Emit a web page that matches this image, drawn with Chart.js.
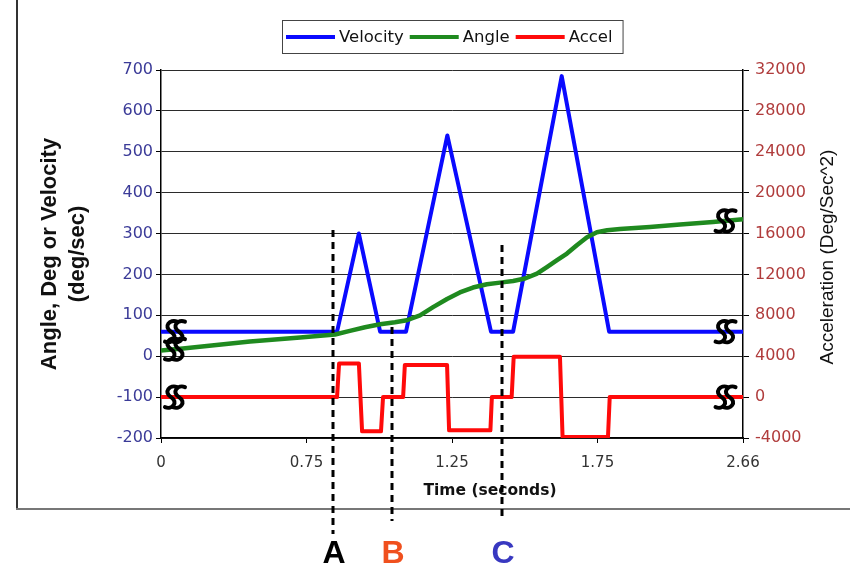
<!DOCTYPE html>
<html>
<head>
<meta charset="utf-8">
<script src="https://cdn.jsdelivr.net/npm/chart.js@4.4.0/dist/chart.umd.min.js"></script>
<style>
  html, body { margin: 0; padding: 0; background: #fff; }
</style>
</head>
<body>
<canvas id="chart" width="850" height="565"></canvas>
<script>
/* DATA - times are as plotted; the time axis is broken at both ends */
const tickTimes = [0.25, 0.75, 1.25, 1.75, 2.25];
const tickLabels = ["0", "0.75", "1.25", "1.75", "2.66"];
const seriesNames = ["Velocity", "Angle", "Accel"];

const velTime = [0.25, 0.855, 0.930, 1.003, 1.092, 1.234, 1.384, 1.460, 1.627, 1.790, 2.25];
const velValues = [60, 60, 300, 60, 60, 540, 60, 60, 685, 60, 60];

const angleTime = [0.25, 0.325, 0.556, 0.728, 0.848, 0.899, 0.951, 1.003, 1.054, 1.095, 1.140, 1.185,
  1.233, 1.277, 1.322, 1.370, 1.415, 1.460, 1.501, 1.542, 1.576, 1.611, 1.645, 1.680, 1.714,
  1.748, 1.783, 1.827, 1.930, 2.034, 2.147, 2.25];
const angleValues = [14, 19, 36, 46, 53, 62, 71, 78, 83, 88, 100, 120,
  140, 156, 168, 176, 180, 184, 190, 202, 218, 235, 251, 272, 291,
  303, 308, 311, 316, 322, 328, 335];

const accelTime = [0.25, 0.855, 0.862, 0.930, 0.941, 1.006, 1.013, 1.082, 1.088, 1.233,
  1.240, 1.382, 1.387, 1.455, 1.462, 1.621, 1.630, 1.786, 1.792, 2.25];
const accelValues = [0, 0, 3300, 3300, -3350, -3350, 0, 0, 3150, 3150,
  -3250, -3250, 0, 0, 3950, 3950, -3900, -3900, 0, 0];

const markerNames = ["A", "B", "C"];
const markerTimes = [0.841, 1.044, 1.422];
const breakTimes = [0.298, 2.19];

/* HELPERS */

const toPoints = (ts, vs) => ts.map((t, i) => ({ x: t, y: vs[i] }));

function valueAt(ts, vs, t) {
  for (let i = 1; i < ts.length; i++) {
    if (t <= ts[i]) {
      const f = (t - ts[i - 1]) / (ts[i] - ts[i - 1]);
      return vs[i - 1] + f * (vs[i] - vs[i - 1]);
    }
  }
  return vs[vs.length - 1];
}

// slanted double-S break mark
function drawBreak(ctx, cx, cy) {
  ctx.save();
  ctx.strokeStyle = "#000";
  ctx.lineWidth = 4;
  ctx.lineCap = "round";
  for (const dx of [-4, 4]) {
    const x0 = cx + dx;
    ctx.beginPath();
    ctx.moveTo(x0 + 6, cy - 10);
    ctx.bezierCurveTo(x0 - 1, cy - 13, x0 - 8, cy - 5, x0, cy);
    ctx.bezierCurveTo(x0 + 8, cy + 5, x0 + 1, cy + 13, x0 - 6, cy + 10);
    ctx.stroke();
  }
  ctx.restore();
}

/* EXTRA DRAWING: frame, legend, titles, markers, axis breaks */

const extras = {
  id: "extras",
  beforeDraw(chart) {
    const ctx = chart.ctx;
    ctx.save();
    ctx.fillStyle = "#fff";
    ctx.fillRect(0, 0, chart.width, chart.height);
    ctx.restore();
  },
  afterDraw(chart) {
    const { ctx, chartArea: ca, scales } = chart;
    const xs = scales.x;
    ctx.save();

    // outer chart frame
    ctx.lineWidth = 2;
    ctx.strokeStyle = "#333";
    ctx.beginPath(); ctx.moveTo(17, 0); ctx.lineTo(17, 509); ctx.stroke();
    ctx.strokeStyle = "#777";
    ctx.beginPath(); ctx.moveTo(16, 509); ctx.lineTo(chart.width, 509); ctx.stroke();

    // legend
    ctx.font = "16.5px 'DejaVu Sans'";
    const ds = chart.data.datasets;
    const lineLen = 49, gap = 4, itemGap = 6, padL = 4, padR = 10;
    const widths = ds.map((d) => lineLen + gap + ctx.measureText(d.label).width);
    const total = widths.reduce((a, b) => a + b) + itemGap * (ds.length - 1) + padL + padR;
    const lx = Math.round((ca.left + ca.right) / 2 - total / 2);
    ctx.strokeStyle = "#444";
    ctx.lineWidth = 1;
    ctx.strokeRect(lx + 0.5, 20.5, total, 33);
    let cx = lx + padL;
    ds.forEach((d, i) => {
      ctx.strokeStyle = d.borderColor;
      ctx.lineWidth = 4;
      ctx.beginPath(); ctx.moveTo(cx, 37); ctx.lineTo(cx + lineLen, 37); ctx.stroke();
      ctx.fillStyle = "#111";
      ctx.textBaseline = "middle";
      ctx.textAlign = "left";
      ctx.fillText(d.label, cx + lineLen + gap, 38);
      cx += widths[i] + itemGap;
    });

    // x title
    ctx.font = "bold 15.5px 'DejaVu Sans'";
    ctx.fillStyle = "#111";
    ctx.textAlign = "center";
    ctx.fillText("Time (seconds)", 490, 491);

    // right title
    ctx.save();
    ctx.translate(828, 257);
    ctx.rotate(-Math.PI / 2);
    ctx.font = "19px 'Liberation Sans'";
    ctx.fillStyle = "#111";
    ctx.fillText("Acceleration (Deg/Sec^2)", 0, 0);
    ctx.restore();

    // dashed event markers
    const tops = [230, 327, 245];
    const bottoms = [534, 521, 521];
    const letterColors = ["#000", "#f0501e", "#3838c0"];
    markerTimes.forEach((t, i) => {
      const px = Math.round(xs.getPixelForValue(t));
      ctx.strokeStyle = "#000";
      ctx.lineWidth = 3;
      ctx.setLineDash([7, 5]);
      ctx.beginPath(); ctx.moveTo(px, tops[i]); ctx.lineTo(px, bottoms[i]); ctx.stroke();
      ctx.setLineDash([]);
      ctx.font = "bold 32px 'Liberation Sans'";
      ctx.fillStyle = letterColors[i];
      ctx.textBaseline = "alphabetic";
      ctx.fillText(markerNames[i], px + 1, 563);
    });

    // axis break symbols on each line
    const series = [
      [velTime, velValues, scales.y],
      [angleTime, angleValues, scales.y],
      [accelTime, accelValues, scales.y1],
    ];
    breakTimes.forEach((t) => {
      const px = xs.getPixelForValue(t);
      series.forEach(([ts, vs, sc]) => drawBreak(ctx, px, sc.getPixelForValue(valueAt(ts, vs, t))));
    });

    ctx.restore();
  },
};

/* CHART */

Chart.defaults.font.family = "'DejaVu Sans'";

new Chart(document.getElementById("chart"), {
  type: "line",
  data: {
    datasets: [
      {
        label: seriesNames[0],
        data: toPoints(velTime, velValues),
        borderColor: "#0a0aff",
        backgroundColor: "#0a0aff",
        yAxisID: "y",
        order: 2,
      },
      {
        label: seriesNames[1],
        data: toPoints(angleTime, angleValues),
        borderColor: "#1f8a1f",
        backgroundColor: "#1f8a1f",
        borderWidth: 4.5,
        yAxisID: "y",
        order: 1,
      },
      {
        label: seriesNames[2],
        data: toPoints(accelTime, accelValues),
        borderColor: "#ff0a0a",
        backgroundColor: "#ff0a0a",
        yAxisID: "y1",
        order: 0,
      },
    ],
  },
  options: {
    responsive: false,
    animation: false,
    devicePixelRatio: 1,
    layout: { padding: { top: 70, left: 0, right: 0, bottom: 0 } },
    elements: {
      line: { borderWidth: 4, tension: 0, borderJoinStyle: "round" },
      point: { radius: 0 },
    },
    plugins: {
      legend: { display: false },
      tooltip: { enabled: false },
    },
    scales: {
      x: {
        type: "linear",
        min: 0.25,
        max: 2.25,
        afterBuildTicks: (s) => {
          s.ticks = tickTimes.map((v) => ({ value: v }));
        },
        afterFit: (s) => {
          s.height = 127;
        },
        ticks: {
          color: "#333",
          font: { size: 15 },
          padding: 11,
          maxRotation: 0,
          autoSkip: false,
          callback: (v, i) => tickLabels[i],
        },
        grid: { drawOnChartArea: false, tickLength: 5, color: "#000" },
        border: { color: "#000", width: 1.5 },
      },
      y: {
        position: "left",
        min: -200,
        max: 700,
        afterFit: (s) => {
          s.width = 161;
        },
        ticks: { stepSize: 100, color: "#3b3b98", font: { size: 16 }, padding: 3 },
        grid: { color: "#2b2b2b", lineWidth: 1, tickLength: 5, tickColor: "#000" },
        border: { color: "#000", width: 1.5 },
        title: {
          display: true,
          text: ["Angle, Deg or Velocity", "(deg/sec)"],
          color: "#111",
          font: { family: "'Liberation Sans'", size: 22, weight: "bold", lineHeight: 1.27 },
          padding: { top: 36, bottom: 0 },
        },
      },
      y1: {
        position: "right",
        min: -4000,
        max: 32000,
        afterFit: (s) => {
          s.width = 107;
        },
        ticks: {
          stepSize: 4000,
          color: "#b03c3c",
          font: { size: 16 },
          padding: 6,
          callback: (v) => String(v),
        },
        grid: { drawOnChartArea: false, tickLength: 6, color: "#000" },
        border: { color: "#000", width: 1.5 },
      },
    },
  },
  plugins: [extras],
});
</script>
</body>
</html>
